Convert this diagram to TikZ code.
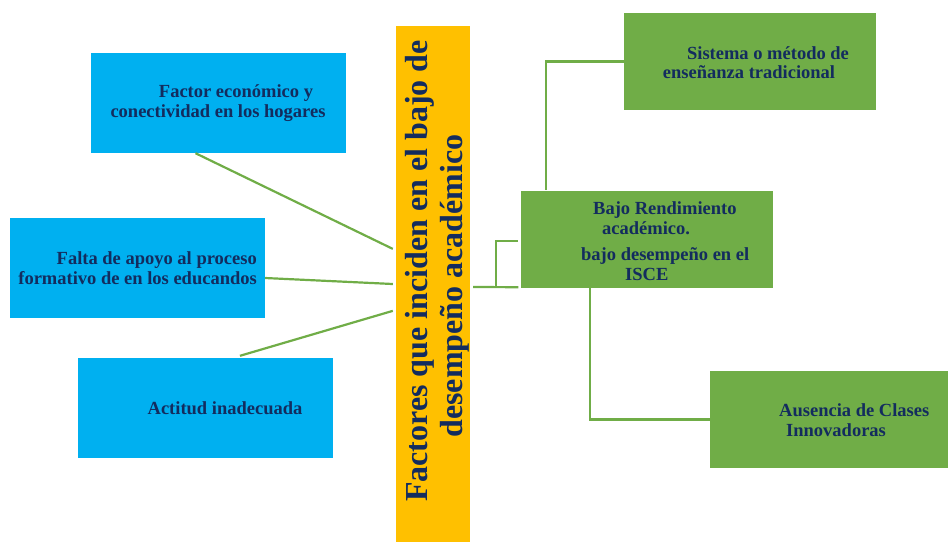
\documentclass[tikz,border=0pt]{standalone}
\usepackage{fontspec}
\setmainfont{Liberation Serif}
\usetikzlibrary{calc}
\definecolor{azulcaja}{HTML}{00B0F0}
\definecolor{verdecaja}{HTML}{70AD47}
\definecolor{amarillo}{HTML}{FFC000}
\definecolor{tinta}{HTML}{132C5E}

\begin{document}
\begin{tikzpicture}[x=1pt, y=-1pt,
    causa/.style={fill=azulcaja, minimum width=255pt, minimum height=100pt, inner sep=0pt},
    efecto/.style={fill=verdecaja, minimum width=252pt, minimum height=97pt, inner sep=0pt},
    texto/.style={text=tinta, font=\fontsize{18.5}{19.5}\selectfont\bfseries, inner sep=0pt},
    enlace/.style={draw=verdecaja, line width=2.2pt}]

        \useasboundingbox (0,0) rectangle (948,542);

        % barra central
        \node[fill=amarillo, minimum width=74pt, minimum height=516pt, inner sep=0pt] (barra) at (433,284) {};
        \node[rotate=90, text=tinta, align=center, inner sep=0pt,
              font=\fontsize{32}{35}\selectfont\bfseries] (titulo) at (437,271)
              {Factores que inciden en el bajo de\\desempeño académico\hspace*{30pt}};

        % causas (izquierda)
        \node[causa] (econ) at (218.5,103) {};
        \node[texto, align=center] (econtxt) at (218,103)
              {\hspace*{36pt}Factor económico y\\conectividad en los hogares};

        \node[causa] (apoyo) at (137.5,268) {};
        \node[texto, align=right, anchor=east] (apoyotxt) at (257,268)
              {Falta de apoyo al proceso\\formativo de en los educandos};

        \node[causa] (actitud) at (205.5,408) {};
        \node[texto] (actitudtxt) at (225,408) {Actitud inadecuada};

        % efectos (derecha)
        \node[efecto] (centro) at (646.5,239.5) {};
        \node[texto, align=left, anchor=west] (centrotxt) at (581,241)
              {\hspace*{12pt}Bajo Rendimiento\\\hspace*{21pt}académico.\\[7pt]bajo desempeño en el\\\hspace*{44pt}ISCE};

        \node[efecto] (sistema) at (750,61.5) {};
        \node[texto, align=center] (sistematxt) at (749,62.5)
              {\hspace*{38pt}Sistema o método de\\enseñanza tradicional};

        \node[efecto, minimum width=238pt] (ausencia) at (829,419.5) {};
        \node[texto, align=left, anchor=west] (ausenciatxt) at (779,420)
              {Ausencia de Clases\\\hspace*{7pt}Innovadoras};

        % enlaces hacia la barra
        \draw[enlace] ($(econ.south west)!0.41!(econ.south east)$) -- ($(barra.north west)!0.432!(barra.south west)+(-3,0)$);
        \draw[enlace] ($(apoyo.east)+(0,10)$) -- ($(barra.west)+(-3,0)$);
        \draw[enlace] ($(actitud.north west)!0.635!(actitud.north east)+(0,-2)$) -- ($(barra.north west)!0.552!(barra.south west)+(-3,0)$);

        % corchete hacia el efecto central
        \draw[enlace] ($(barra.east)+(3,3)$) -- ($(centro.south west)+(-2,-1)$);
        \draw[enlace] ($(barra.east)+(26,3)$) |- ($(centro.west)+(-2,1.5)$);

        % ramas del efecto central
        \draw[enlace] ($(centro.north west)+(26,-1)$) |- (sistema.west);
        \draw[enlace] ($(centro.south west)+(70,0)$) |- (ausencia.west);

\end{tikzpicture}
\end{document}
